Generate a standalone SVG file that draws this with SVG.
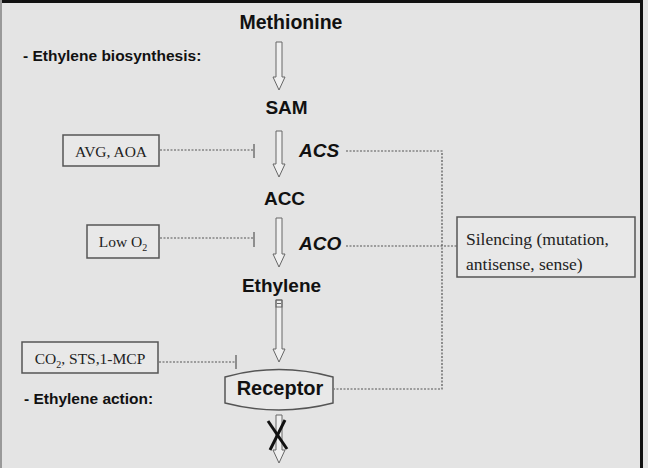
<svg xmlns="http://www.w3.org/2000/svg" width="648" height="468" viewBox="0 0 648 468">
<style>
.bg{fill:#e4e4e4}
.h{font-family:"Liberation Sans",Arial,sans-serif;font-weight:bold;fill:#111}
.t{font-family:"Liberation Serif","Times New Roman",serif;fill:#222}
.box{fill:#e8e8e8;stroke:#555;stroke-width:1.5}
.arr{fill:#f0f0f0;stroke:#666;stroke-width:1}
.dot{fill:none;stroke:#555;stroke-width:1.2;stroke-dasharray:2 1.5}
.bar{stroke:#555;stroke-width:1.2}
</style>
<rect class="bg" x="0" y="0" width="648" height="468"/>
<line x1="0" y1="1.5" x2="643" y2="1.5" stroke="#111" stroke-width="3"/>
<line x1="641.5" y1="0" x2="641.5" y2="468" stroke="#111" stroke-width="3"/>
<line x1="1" y1="0" x2="1" y2="468" stroke="#999" stroke-width="2"/>

<g id="labels">
<text class="h" x="23" y="61" font-size="15.5">- Ethylene biosynthesis:</text>
<text class="h" x="24" y="404" font-size="15.5">- Ethylene action:</text>
</g>

<g id="methionine"><text class="h" x="291" y="29" font-size="19.5" text-anchor="middle">Methionine</text></g>
<g id="sam"><text class="h" x="286.5" y="114" font-size="19" text-anchor="middle">SAM</text></g>
<g id="acs"><text class="h" x="299" y="157" font-size="19" font-style="italic">ACS</text></g>
<g id="acc"><text class="h" x="284.5" y="205" font-size="19" text-anchor="middle">ACC</text></g>
<g id="aco"><text class="h" x="299" y="250" font-size="19" font-style="italic">ACO</text></g>
<g id="ethylene"><text class="h" x="281.5" y="292" font-size="19" text-anchor="middle">Ethylene</text></g>

<g id="avg-aoa">
<rect class="box" x="63" y="135" width="96" height="31"/>
<text class="t" x="111" y="157" font-size="15.5" text-anchor="middle">AVG, AOA</text>
</g>
<g id="low-o2">
<rect class="box" x="87" y="225" width="72" height="33"/>
<text class="t" x="123" y="247" font-size="15.5" text-anchor="middle">Low O<tspan font-size="10" dy="4">2</tspan></text>
</g>
<g id="co2-sts">
<rect class="box" x="22" y="342" width="136" height="31"/>
<text class="t" x="90" y="364" font-size="15.5" text-anchor="middle">CO<tspan font-size="10" dy="4">2</tspan><tspan dy="-4">, STS,1-MCP</tspan></text>
</g>
<g id="silencing">
<rect class="box" x="457" y="217" width="178" height="60"/>
<text class="t" x="466" y="245" font-size="17.5">Silencing (mutation,</text>
<text class="t" x="466" y="270" font-size="17.5">antisense, sense)</text>
</g>
<g id="receptor">
<path class="box" d="M225,377 Q279,362 333,377 L333,403 Q279,417 225,403 Z" fill="#eaeaea"/>
<text class="h" x="280" y="395" font-size="20" text-anchor="middle">Receptor</text>
</g>

<g id="connectors">
<polygon class="arr" points="276,42 282,42 282,77 285,77 279,90 273,77 276,77"/>
<polygon class="arr" points="276,131 282,131 282,164 285,164 279,177 273,164 276,164"/>
<polygon class="arr" points="276,218 282,218 282,254 285,254 279,267 273,254 276,254"/>
<polygon class="arr" points="276,300 282,300 282,349 285,349 279,362 273,349 276,349"/>
<rect x="276" y="300" width="6" height="7" fill="none" stroke="#666" stroke-width="1"/>
<line x1="277" y1="303.5" x2="281" y2="303.5" stroke="#666" stroke-width="1"/>
<polygon class="arr" points="276,415 282,415 282,450 285,450 279,463 273,450 276,450"/>
<line x1="268" y1="421" x2="287" y2="449" stroke="#111" stroke-width="3"/>
<line x1="285" y1="420" x2="270" y2="450" stroke="#111" stroke-width="3"/>

<line class="dot" x1="160" y1="150" x2="254" y2="150"/>
<line class="bar" x1="254" y1="144" x2="254" y2="158"/>
<line class="dot" x1="160" y1="238" x2="254" y2="238"/>
<line class="bar" x1="254" y1="232" x2="254" y2="247"/>
<line class="dot" x1="159" y1="362" x2="236" y2="362"/>
<line class="bar" x1="236" y1="355" x2="236" y2="369"/>

<polyline class="dot" points="346,151 442,151 442,389 334,389"/>
<line class="dot" x1="346" y1="246" x2="457" y2="246"/>
</g>
</svg>
